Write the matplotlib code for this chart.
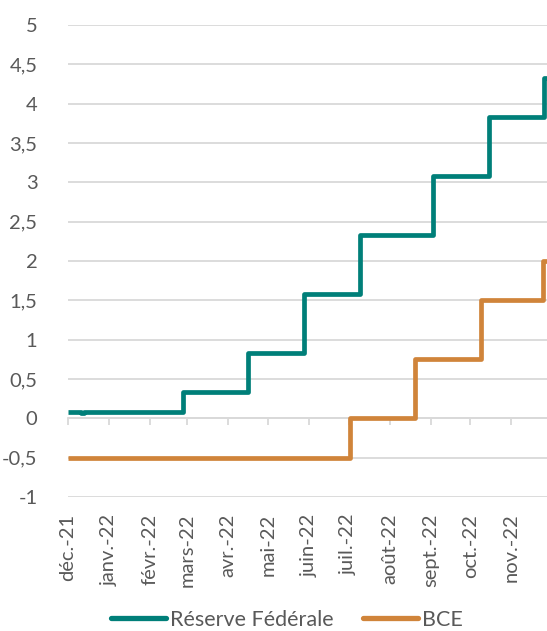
import matplotlib
matplotlib.use("Agg")
import matplotlib.pyplot as plt
import pandas as pd

# Data (step dates and levels, %)
fed_dates = ["2021-12-01", "2021-12-11", "2021-12-13", "2022-02-26", "2022-04-16",
             "2022-05-28", "2022-07-10", "2022-09-03", "2022-10-15", "2022-11-26"]
fed_values = [0.08, 0.07, 0.08, 0.33, 0.83, 1.58, 2.33, 3.08, 3.83, 4.33]

bce_dates = ["2021-12-01", "2022-07-02", "2022-08-20", "2022-10-09", "2022-11-25"]
bce_values = [-0.5, 0.0, 0.75, 1.5, 2.0]

end_date = "2022-11-28"

month_ticks = ["2021-12-01", "2022-01-01", "2022-02-01", "2022-03-01", "2022-04-01",
               "2022-05-01", "2022-06-01", "2022-07-01", "2022-08-01", "2022-09-01",
               "2022-10-01", "2022-11-01"]
month_labels = ["déc.-21", "janv.-22", "févr.-22", "mars-22", "avr.-22", "mai-22",
                "juin-22", "juil.-22", "août-22", "sept.-22", "oct.-22", "nov.-22"]

y_ticks = [-1, -0.5, 0, 0.5, 1, 1.5, 2, 2.5, 3, 3.5, 4, 4.5, 5]
y_labels = ["-1", "-0,5", "0", "0,5", "1", "1,5", "2", "2,5", "3", "3,5", "4", "4,5", "5"]

plt.rcParams['font.family'] = ['Lato', 'DejaVu Sans']
grey = "#595959"
fed_color = "#007F79"
bce_color = "#D0843A"

fig = plt.figure(figsize=(5.47, 6.31), dpi=100)
ax = fig.add_axes([68/547, 1 - 497/631, (547 - 68)/547, (497 - 25)/631])

def step_series(dates, values):
    x = pd.to_datetime(dates + [end_date])
    y = values + [values[-1]]
    return x, y

fx, fy = step_series(fed_dates, fed_values)
bx, by = step_series(bce_dates, bce_values)

ax.step(fx, fy, where="post", color=fed_color, lw=3.4, solid_joinstyle="round",
        solid_capstyle="butt", label="Réserve Fédérale", zorder=3)
ax.step(bx, by, where="post", color=bce_color, lw=3.4, solid_joinstyle="round",
        solid_capstyle="butt", label="BCE", zorder=3)

ax.set_xlim(pd.Timestamp("2021-12-01"), pd.Timestamp(end_date))
ax.set_ylim(-1, 5)
ax.set_yticks(y_ticks)
ax.set_yticklabels(y_labels)
ax.grid(axis="y", color="#D9D9D9", lw=1.3)
ax.set_axisbelow(True)
for s in ["top", "right", "left"]:
    ax.spines[s].set_visible(False)
ax.spines["bottom"].set_position(("data", 0))
ax.spines["bottom"].set_color("#D9D9D9")
ax.spines["bottom"].set_linewidth(1.3)
ax.tick_params(axis="y", length=0, labelsize=14.5, colors=grey, pad=22)

tick_pos = pd.to_datetime(month_ticks)
ax.set_xticks(tick_pos)
ax.tick_params(axis="x", direction="out", length=5, width=1.3, color="#D9D9D9",
               labelbottom=False)

sec = ax.secondary_xaxis("bottom")
sec.set_xticks(tick_pos)
sec.set_xticklabels(month_labels, rotation=90, ha="center", va="top")
sec.tick_params(axis="x", length=0, labelsize=14.5, colors=grey, pad=12)
sec.spines["bottom"].set_visible(False)

leg = fig.legend(loc="center", bbox_to_anchor=(0.525, 1 - 620/631), ncol=2,
                 frameon=False, fontsize=15.5, handlelength=2.55, handletextpad=0.2,
                 columnspacing=1.35)
for t in leg.get_texts():
    t.set_color(grey)
for l in leg.get_lines():
    l.set_linewidth(3.8)
    l.set_solid_capstyle("round")

fig.savefig("out.png", dpi=100)
